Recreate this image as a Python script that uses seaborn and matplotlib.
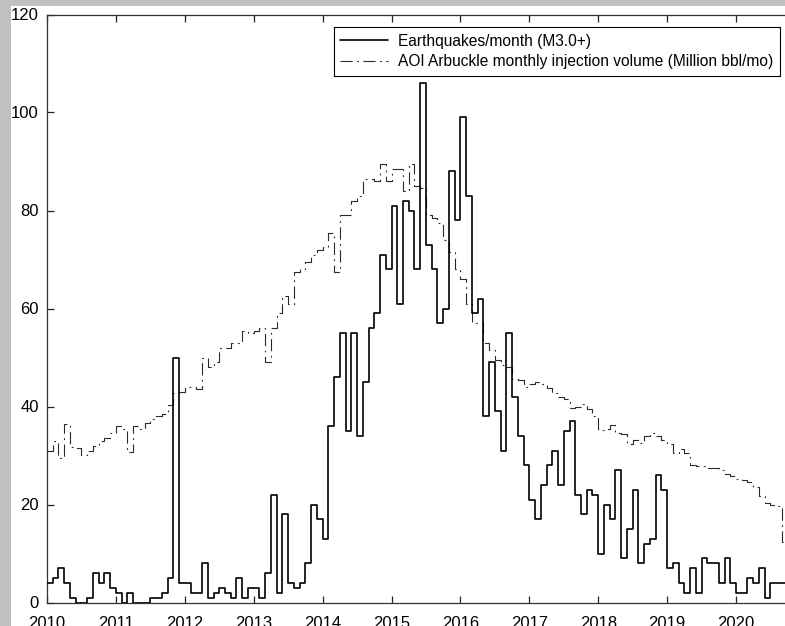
import numpy as np
import pandas as pd
import matplotlib
matplotlib.use("Agg")
import matplotlib.pyplot as plt
from matplotlib.patches import Rectangle
import seaborn as sns

# Monthly series starting January 2010
start_year = 2010
x_end = 2020.711

quakes = [
    4, 5, 7, 4, 1, 0, 0, 1, 6, 4, 6, 3,
    2, 0, 2, 0, 0, 0, 1, 1, 2, 5, 50, 4,
    4, 2, 2, 8, 1, 2, 3, 2, 1, 5, 1, 3,
    3, 1, 6, 22, 2, 18, 4, 3, 4, 8, 20, 17,
    13, 36, 46, 55, 35, 55, 34, 45, 56, 59, 71, 68,
    81, 61, 82, 80, 68, 106, 73, 68, 57, 60, 88, 78,
    99, 83, 59, 62, 38, 49, 39, 31, 55, 42, 34, 28,
    21, 17, 24, 28, 31, 24, 35, 37, 22, 18, 23, 22,
    10, 20, 17, 27, 9, 15, 23, 8, 12, 13, 26, 23,
    7, 8, 4, 2, 7, 2, 9, 8, 8, 4, 9, 4,
    2, 2, 5, 4, 7, 1, 4, 4, 4,
]

injection = [
    31, 33, 29.5, 36.4, 31.8, 31.5, 30.1, 31, 32, 33, 33.5, 34.5,
    36, 35.5, 30.8, 36, 35.5, 36.6, 37.5, 38, 38.5, 40.3, 42.7, 43,
    44, 44, 43.5, 50, 48, 49, 52, 52, 53, 53, 55.5, 55,
    55.5, 56, 49, 56, 59, 62.5, 61, 67.5, 68, 69.5, 71, 72,
    72.5, 75.5, 67.5, 79, 79, 82, 83, 86.5, 86.5, 86, 89.5, 86,
    88.5, 88.5, 84, 89.5, 85, 84.5, 79, 78.5, 77.5, 74, 71.5, 68,
    66, 61, 57, 57, 53, 51.5, 49.5, 48.5, 48, 45.7, 45.4, 44,
    44.5, 45, 44.5, 43.8, 42.7, 42, 41.5, 39.6, 40, 40.6, 39.5, 38,
    35.3, 35.5, 36.2, 34.6, 34.4, 32.3, 33.2, 32.5, 34, 34.6, 34, 33.2,
    32.3, 30.6, 31.3, 30.6, 28.1, 27.8, 27.8, 27.4, 27.4, 27, 26.2, 25.8,
    25.2, 25, 24.6, 23.5, 21.8, 20.4, 19.8, 19.6, 12.4,
]

year_ticks = list(range(2010, 2021))
y_ticks = [0, 20, 40, 60, 80, 100, 120]

quake_label = "Earthquakes/month (M3.0+)"
inj_label = "AOI Arbuckle monthly injection volume (Million bbl/mo)"

# Month start times, plus one trailing edge so the final month is drawn
n = len(quakes)
t = start_year + np.arange(n + 1) / 12.0
df = pd.DataFrame({
    "t": t,
    "quakes": quakes + [quakes[-1]],
    "injection": injection + [injection[-1]],
})

sns.set_theme(style="white")
plt.rcParams["font.family"] = ["Liberation Sans", "DejaVu Sans"]
plt.rcParams["text.color"] = "black"
plt.rcParams["xtick.color"] = "#222222"
plt.rcParams["ytick.color"] = "#222222"
plt.rcParams["xtick.labelcolor"] = "black"
plt.rcParams["ytick.labelcolor"] = "black"

W, H = 785, 626
fig = plt.figure(figsize=(W / 100, H / 100), dpi=100, facecolor="#c0c0c0")
# white panel behind the axes and tick labels
fig.patches.append(Rectangle((11 / W, 0), 1, (H - 6) / H, transform=fig.transFigure,
                             facecolor="white", edgecolor="none", zorder=-5))

ax = fig.add_axes([47 / W, (H - 602.5) / H, (W - 47) / W, 588 / H])
ax.set_facecolor("white")

sns.lineplot(data=df, x="t", y="quakes", drawstyle="steps-post", color="black",
             linewidth=1.2, errorbar=None, label=quake_label, ax=ax, zorder=3)
sns.lineplot(data=df, x="t", y="injection", drawstyle="steps-post", color="#2a2a2a",
             linewidth=0.8, errorbar=None, label=inj_label, ax=ax, zorder=2)
ax.lines[1].set_dashes([11, 4, 1.6, 4])

ax.set_xlim(start_year, x_end)
ax.set_ylim(0, 120)
ax.set_xticks(year_ticks)
ax.set_xticklabels([str(y) for y in year_ticks])
ax.set_yticks(y_ticks)
ax.set_xlabel("")
ax.set_ylabel("")

for side in ["left", "bottom", "top"]:
    ax.spines[side].set_color("#333333")
    ax.spines[side].set_linewidth(0.9)
ax.spines["right"].set_visible(False)

ax.tick_params(axis="both", direction="in", length=5, width=0.9, labelsize=12,
               top=True, right=False, left=True, bottom=True)
ax.tick_params(axis="y", pad=5.8)
ax.tick_params(axis="x", pad=10)

leg = ax.legend(loc="upper right", bbox_to_anchor=(0.9932, 0.9787), borderaxespad=0,
                frameon=True, fancybox=False, edgecolor="black", framealpha=1,
                fontsize=11.2, handlelength=3.1, handletextpad=0.63,
                borderpad=0.42, labelspacing=0.35)
leg.get_frame().set_linewidth(0.8)

fig.savefig("out.png", dpi=100, facecolor=fig.get_facecolor())
